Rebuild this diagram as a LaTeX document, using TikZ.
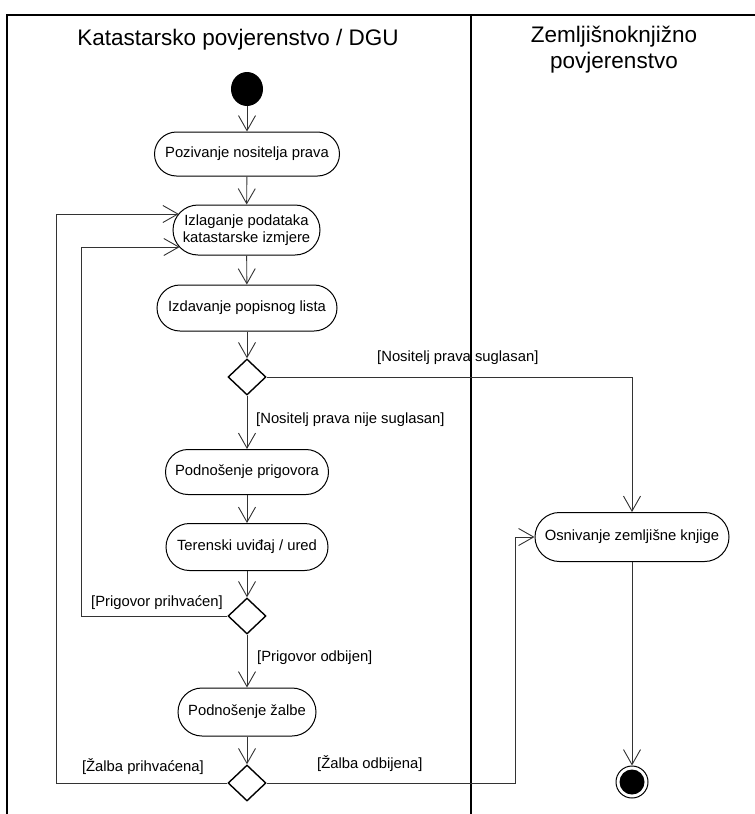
\documentclass[tikz,border=0pt]{standalone}
\usepackage{fontspec}
\setmainfont{Liberation Sans}
\usetikzlibrary{shapes.geometric,arrows.meta}
\newcommand\bodytxt{\fontsize{14.8}{17}\selectfont}
\newcommand\headtxt{\fontsize{22.5}{26}\selectfont}
\begin{document}
\begin{tikzpicture}[x=1pt,y=-1pt,
  action/.style={rectangle, draw=black, line width=1pt, inner sep=0pt,
    font=\bodytxt, align=center},
  decision/.style={diamond, draw=black, line width=1.4pt, inner sep=0pt,
    minimum width=38pt, minimum height=36pt},
  flow/.style={draw=black!80, line width=0.9pt,
    -{Straight Barb[length=15pt,width=17pt,line width=0.9pt]}},
  lane/.style={draw=black, line width=1.5pt},
  guard/.style={inner sep=0pt, font=\bodytxt},
  heading/.style={inner sep=0pt, font=\headtxt, align=center}]

\useasboundingbox (0,0) rectangle (755,814);
\fill[white] (0,0) rectangle (755,814);

% swimlanes
\draw[lane] (7,814) -- (7,15) -- (755,15);
\draw[lane] (471,15) -- (471,814);
\node[heading] (laneA) at (238,40) {Katastarsko povjerenstvo / DGU};
\node[heading] (laneB) at (614,50) {Zemljišnoknjižno\\povjerenstvo};

% activities
\node[ellipse, fill=black, minimum width=32pt, minimum height=34pt, inner sep=0pt] (start) at (247,89) {};
\node[action, minimum width=185pt, minimum height=44pt, rounded corners=22pt]
  (pozivanje) at (247,154) {Pozivanje nositelja prava};
\node[action, minimum width=147pt, minimum height=50pt, rounded corners=25pt]
  (izlaganje) at (246.5,230) {Izlaganje podataka\\katastarske izmjere};
\node[action, minimum width=180pt, minimum height=46pt, rounded corners=23pt]
  (izdavanje) at (247,308) {Izdavanje popisnog lista};
\node[decision] (odluka1) at (247,377) {};
\node[action, minimum width=163pt, minimum height=45pt, rounded corners=22.5pt]
  (prigovor) at (247,472) {Podnošenje prigovora};
\node[action, minimum width=162pt, minimum height=47pt, rounded corners=23.5pt]
  (uvidaj) at (247,547) {Terenski uviđaj / ured};
\node[decision] (odluka2) at (247,616) {};
\node[action, minimum width=138pt, minimum height=48pt, rounded corners=24pt]
  (zalba) at (247,712) {Podnošenje žalbe};
\node[decision] (odluka3) at (247,783) {};
\node[action, minimum width=194pt, minimum height=49pt, rounded corners=24.5pt]
  (osnivanje) at (632,537) {Osnivanje zemljišne knjige};
\node[circle, draw=black, line width=1pt, minimum size=32pt, inner sep=0pt] (kraj) at (632,782) {};
\fill[black] (kraj.center) circle (12.5pt);

% entry points on the rounded side of the second activity
\coordinate (ulazA) at (178.8,214);
\coordinate (ulazB) at (179.7,247);
\coordinate (petljaA) at (56,0);
\coordinate (petljaB) at (81,0);
\coordinate (skretanje) at (515,0);

% control flow
\draw[flow] (start) -- (pozivanje);
\draw[flow] (pozivanje) -- (izlaganje);
\draw[flow] (izlaganje) -- (izdavanje);
\draw[flow] (izdavanje) -- (odluka1);
\draw[flow] (odluka1) -- (prigovor);
\draw[flow] (prigovor) -- (uvidaj);
\draw[flow] (uvidaj) -- (odluka2);
\draw[flow] (odluka2) -- (zalba);
\draw[flow] (zalba) -- (odluka3);
\draw[flow] (odluka1.east) -| (osnivanje.north);
\draw[flow] (odluka3.east) -- (odluka3.east -| skretanje) -- (skretanje |- osnivanje.west) -- (osnivanje.west);
\draw[flow] (odluka3.west) -- (odluka3.west -| petljaA) -- (petljaA |- ulazA) -- (ulazA);
\draw[flow] (odluka2.west) -- (odluka2.west -| petljaB) -- (petljaB |- ulazB) -- (ulazB);
\draw[flow] (osnivanje) -- (kraj);

% guards
\node[guard, anchor=west] (g1) at (377,358) {[Nositelj prava suglasan]};
\node[guard, anchor=west] (g2) at (256,420) {[Nositelj prava nije suglasan]};
\node[guard, anchor=east] (g3) at (223,603) {[Prigovor prihvaćen]};
\node[guard, anchor=west] (g4) at (257,658) {[Prigovor odbijen]};
\node[guard, anchor=east] (g5) at (204,767) {[Žalba prihvaćena]};
\node[guard, anchor=west] (g6) at (317,764) {[Žalba odbijena]};
\end{tikzpicture}
\end{document}
